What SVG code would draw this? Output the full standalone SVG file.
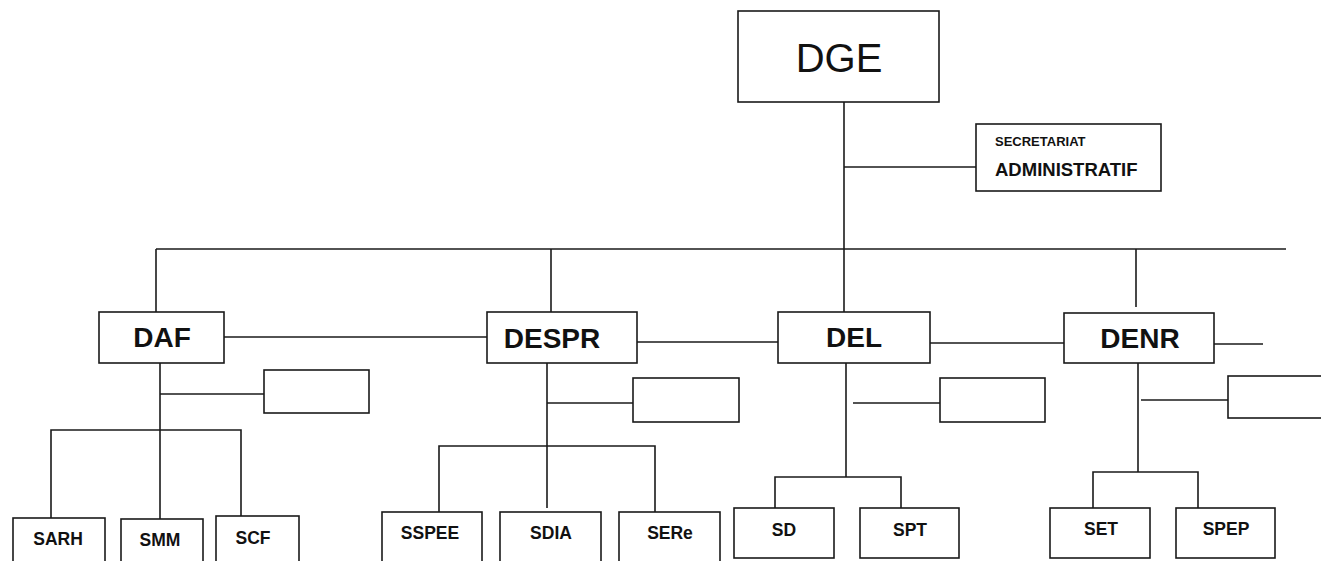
<svg xmlns="http://www.w3.org/2000/svg" width="1321" height="561" viewBox="0 0 1321 561">
<style>
.box{fill:#fff;stroke:#1a1a1a;stroke-width:1.6}
.ln{stroke:#1a1a1a;stroke-width:1.6;fill:none}
.t{font-family:"Liberation Sans",Arial,sans-serif;fill:#111;text-anchor:middle}
.dir{font-size:28px;font-weight:bold}
.svc{font-size:17.5px;font-weight:bold}
</style>
<rect x="0" y="0" width="1321" height="561" fill="#fff"/>
<g id="connectors" class="ln">
<line x1="844" y1="102" x2="844" y2="312"/>
<line x1="844" y1="167" x2="976" y2="167"/>
<line x1="156" y1="249" x2="1286" y2="249"/>
<line x1="156" y1="249" x2="156" y2="312"/>
<line x1="551" y1="249" x2="551" y2="312"/>
<line x1="1136" y1="249" x2="1136" y2="307"/>
<line x1="224" y1="337" x2="487" y2="337"/>
<line x1="637" y1="342" x2="778" y2="342"/>
<line x1="930" y1="343" x2="1064" y2="343"/>
<line x1="1214" y1="344" x2="1263" y2="344"/>
<line x1="160" y1="363" x2="160" y2="519"/>
<line x1="160" y1="394" x2="264" y2="394"/>
<polyline points="51,518 51,430 241,430 241,516"/>
<line x1="547" y1="363" x2="547" y2="508"/>
<line x1="547" y1="403" x2="633" y2="403"/>
<polyline points="439,512 439,446 655,446 655,512"/>
<line x1="846" y1="363" x2="846" y2="477"/>
<line x1="853" y1="403" x2="940" y2="403"/>
<polyline points="775,508 775,477 901,477 901,508"/>
<line x1="1138" y1="363" x2="1138" y2="472"/>
<line x1="1141" y1="400" x2="1228" y2="400"/>
<polyline points="1093,508 1093,472 1198,472 1198,508"/>
</g>
<g id="DGE"><rect class="box" x="738" y="11" width="201" height="91"/><text class="t" x="839" y="72" font-size="40">DGE</text></g>
<g id="SECRETARIAT"><rect class="box" x="976" y="124" width="185" height="67"/>
<text class="t" x="995" y="146" font-size="13" font-weight="bold" style="text-anchor:start">SECRETARIAT</text>
<text class="t" x="995" y="176" font-size="18.5" font-weight="bold" style="text-anchor:start">ADMINISTRATIF</text></g>
<g id="DAF"><rect class="box" x="99" y="312" width="125" height="51"/><text class="t dir" x="162" y="347">DAF</text></g>
<g id="DESPR"><rect class="box" x="487" y="312" width="150" height="51"/><text class="t dir" x="552" y="348">DESPR</text></g>
<g id="DEL"><rect class="box" x="778" y="312" width="152" height="51"/><text class="t dir" x="854" y="347">DEL</text></g>
<g id="DENR"><rect class="box" x="1064" y="313" width="150" height="50"/><text class="t dir" x="1140" y="348">DENR</text></g>
<g id="DAF-sub"><rect class="box" x="264" y="370" width="105" height="43"/></g>
<g id="DESPR-sub"><rect class="box" x="633" y="378" width="106" height="44"/></g>
<g id="DEL-sub"><rect class="box" x="940" y="378" width="105" height="44"/></g>
<g id="DENR-sub"><rect class="box" x="1228" y="376" width="110" height="42"/></g>
<g id="SARH"><rect class="box" x="13" y="518" width="92" height="60"/><text class="t svc" x="58" y="545">SARH</text></g>
<g id="SMM"><rect class="box" x="121" y="519" width="82" height="60"/><text class="t svc" x="160" y="546">SMM</text></g>
<g id="SCF"><rect class="box" x="216" y="516" width="83" height="60"/><text class="t svc" x="253" y="544">SCF</text></g>
<g id="SSPEE"><rect class="box" x="382" y="512" width="100" height="60"/><text class="t svc" x="430" y="539">SSPEE</text></g>
<g id="SDIA"><rect class="box" x="500" y="512" width="101" height="60"/><text class="t svc" x="551" y="539">SDIA</text></g>
<g id="SERe"><rect class="box" x="619" y="512" width="101" height="60"/><text class="t svc" x="670" y="539">SERe</text></g>
<g id="SD"><rect class="box" x="734" y="508" width="100" height="50"/><text class="t svc" x="784" y="536">SD</text></g>
<g id="SPT"><rect class="box" x="860" y="508" width="99" height="50"/><text class="t svc" x="910" y="536">SPT</text></g>
<g id="SET"><rect class="box" x="1050" y="508" width="100" height="50"/><text class="t svc" x="1101" y="535">SET</text></g>
<g id="SPEP"><rect class="box" x="1176" y="508" width="99" height="50"/><text class="t svc" x="1226" y="535">SPEP</text></g>
</svg>
